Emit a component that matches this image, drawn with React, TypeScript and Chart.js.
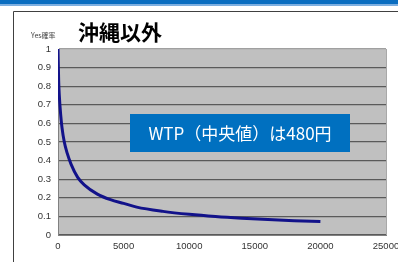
import React, { useEffect, useRef } from "react";
import { Chart, registerables } from "chart.js";

Chart.register(...registerables);

// WTP amount (yen) and probability of answering "Yes"
const wtpYen = [0, 50, 100, 200, 300, 480, 700, 1000, 1500, 2000, 3000, 4000, 5000, 6000, 8000, 10000, 12000, 14000, 16000, 18000, 20000];
const yesProbability = [1.0, 0.83, 0.75, 0.65, 0.58, 0.5, 0.44, 0.38, 0.31, 0.27, 0.22, 0.19, 0.17, 0.15, 0.127, 0.111, 0.099, 0.09, 0.083, 0.077, 0.072];

const chartTitle = "沖縄以外";
const yAxisLabel = "Yes確率";
const noteText = "WTP（中央値）は480円";
const xMax = 25000;
const xStep = 5000;
const yMax = 1;
const yStep = 0.1;

const decorPlugin = {
  id: "decor",
  beforeDraw(chart: any) {
    const { ctx, width, height, chartArea } = chart;
    ctx.save();
    ctx.fillStyle = "#ffffff";
    ctx.fillRect(0, 0, width, height);
    // slide header bar
    ctx.fillStyle = "#0A6DC0";
    ctx.fillRect(0, 0, width, 4);
    ctx.fillStyle = "#7EAFE0";
    ctx.fillRect(0, 4, width, 2);
    // frame lines
    ctx.strokeStyle = "#404040";
    ctx.lineWidth = 1;
    ctx.beginPath();
    ctx.moveTo(13.5, height);
    ctx.lineTo(13.5, 11.5);
    ctx.lineTo(width, 11.5);
    ctx.stroke();
    // plot background
    ctx.fillStyle = "#C0C0C0";
    ctx.fillRect(chartArea.left, chartArea.top, chartArea.right - chartArea.left, chartArea.bottom - chartArea.top);
    // right border
    ctx.strokeStyle = "#a8a8a8";
    ctx.beginPath();
    ctx.moveTo(chartArea.right + 0.5, chartArea.top);
    ctx.lineTo(chartArea.right + 0.5, chartArea.bottom);
    ctx.stroke();
    // title
    ctx.fillStyle = "#000000";
    ctx.font = 'bold 21px "Noto Sans CJK JP"';
    ctx.textBaseline = "middle";
    ctx.textAlign = "left";
    ctx.fillText(chartTitle, 78, 32);
    // y axis label
    ctx.fillStyle = "#444444";
    ctx.font = '7px "Noto Sans CJK JP"';
    ctx.fillText(yAxisLabel, 31, 35);
    ctx.restore();
  },
  afterDraw(chart: any) {
    const { ctx } = chart;
    ctx.save();
    ctx.fillStyle = "#0070C0";
    ctx.fillRect(130, 114, 220, 38);
    ctx.fillStyle = "#ffffff";
    ctx.font = '17px "Noto Sans CJK JP"';
    ctx.textBaseline = "middle";
    ctx.textAlign = "center";
    ctx.fillText(noteText, 240, 134);
    ctx.restore();
  },
};

export default function App() {
  const canvasRef = useRef<HTMLCanvasElement | null>(null);

  useEffect(() => {
    if (!canvasRef.current) return;
    const chart = new Chart(canvasRef.current, {
      type: "scatter",
      data: {
        datasets: [
          {
            data: wtpYen.map((x, i) => ({ x, y: yesProbability[i] })),
            showLine: true,
            borderColor: "#12128A",
            borderWidth: 3,
            pointRadius: 0,
            cubicInterpolationMode: "monotone",
            fill: false,
          },
        ],
      },
      options: {
        animation: false,
        responsive: false,
        devicePixelRatio: 1,
        layout: { padding: { left: 0, top: 49, right: 12, bottom: 0 } },
        plugins: { legend: { display: false }, tooltip: { enabled: false } },
        scales: {
          x: {
            type: "linear",
            min: 0,
            max: xMax,
            ticks: {
              stepSize: xStep,
              padding: 6,
              color: "#333333",
              font: { family: "Liberation Sans", size: 9.5 },
              callback: (v: any) => String(v),
            },
            grid: { display: false, drawTicks: false },
            border: { display: true, color: "#808080", width: 1 },
            afterFit: (s: any) => {
              s.height = 27;
              s.paddingLeft = 0;
              s.paddingRight = 0;
            },
          },
          y: {
            type: "linear",
            min: 0,
            max: yMax,
            ticks: {
              stepSize: yStep,
              padding: 7,
              color: "#333333",
              font: { family: "Liberation Sans", size: 9.5 },
              callback: (v: any) => String(Number(Number(v).toFixed(1))),
            },
            grid: {
              drawTicks: false,
              color: (c: any) => (c.tick && c.tick.value === 1 ? "#a0a0a0" : "#5a5a5a"),
              lineWidth: 1.2,
            },
            border: { display: true, color: "#808080", width: 1 },
            afterFit: (s: any) => {
              s.width = 58;
              s.paddingTop = 0;
              s.paddingBottom = 0;
            },
          },
        },
      },
      plugins: [decorPlugin],
    });
    return () => chart.destroy();
  }, []);

  return (
    <div style={{ position: "absolute", left: 0, top: 0, width: 398, height: 262, background: "#fff" }}>
      <canvas ref={canvasRef} width={398} height={262} style={{ display: "block", width: 398, height: 262 }} />
    </div>
  );
}
